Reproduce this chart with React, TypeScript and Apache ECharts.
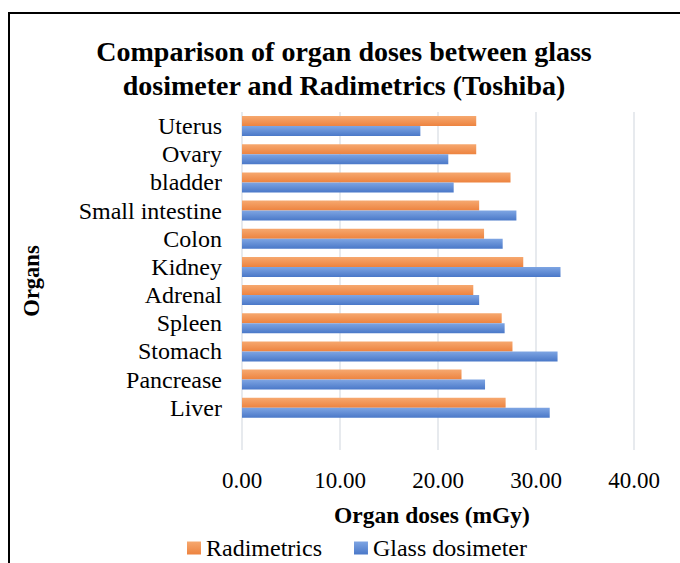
import React, { useEffect, useRef } from "react";
import * as echarts from "echarts";

const categories = ["", "Liver", "Pancrease", "Stomach", "Spleen", "Adrenal", "Kidney", "Colon", "Small intestine", "bladder", "Ovary", "Uterus"];
const radimetrics: (number | string)[] = ["-", 26.9, 22.4, 27.6, 26.5, 23.6, 28.7, 24.7, 24.2, 27.4, 23.9, 23.9];
const glassDosimeter: (number | string)[] = ["-", 31.4, 24.8, 32.2, 26.8, 24.2, 32.5, 26.6, 28.0, 21.6, 21.05, 18.2];
const xTicks = { min: 0, max: 40, interval: 10 };

const SERIF = "'Liberation Serif', 'Times New Roman', serif";

export default function App() {
  const ref = useRef<HTMLDivElement>(null);
  useEffect(() => {
    if (!ref.current) return;
    const chart = echarts.init(ref.current, null, { renderer: "svg" });
    const orange = new echarts.graphic.LinearGradient(0, 0, 0, 1, [
      { offset: 0, color: "#f6a86f" },
      { offset: 1, color: "#ed833f" },
    ]);
    const blue = new echarts.graphic.LinearGradient(0, 0, 0, 1, [
      { offset: 0, color: "#7ea5e3" },
      { offset: 1, color: "#4a78c8" },
    ]);
    chart.setOption({
      animation: false,
      textStyle: { fontFamily: SERIF },
      title: {
        text: "Comparison of organ doses between glass\ndosimeter and Radimetrics (Toshiba)",
        left: 344,
        textAlign: "center",
        top: 34,
        padding: 0,
        textStyle: { fontFamily: SERIF, fontSize: 28, fontWeight: "bold", color: "#000", lineHeight: 34 },
      },
      graphic: [
        {
          type: "rect",
          shape: { x: 9, y: 13, width: 700, height: 600 },
          style: { fill: "none", stroke: "#000", lineWidth: 2 },
          silent: true,
        },
      ],
      legend: {
        data: ["Radimetrics", "Glass dosimeter"],
        left: 187,
        top: 536,
        padding: 0,
        itemWidth: 14,
        itemHeight: 13,
        itemGap: 32,
        icon: "rect",
        textStyle: { fontFamily: SERIF, fontSize: 24, color: "#000", lineHeight: 22 },
      },
      grid: { left: 242, right: 46, top: 112, bottom: 113, containLabel: false },
      xAxis: {
        type: "value",
        min: xTicks.min,
        max: xTicks.max,
        interval: xTicks.interval,
        name: "Organ doses (mGy)",
        nameLocation: "middle",
        nameGap: 53,
        nameTextStyle: { fontFamily: SERIF, fontSize: 23.5, fontWeight: "bold", color: "#000", padding: [0, 12, 0, 0] },
        axisLine: { show: false },
        axisTick: { show: false },
        axisLabel: {
          margin: 19,
          fontFamily: SERIF,
          fontSize: 23,
          color: "#000",
          formatter: (v: number) => v.toFixed(2),
        },
        splitLine: { show: true, lineStyle: { color: "#dfe3e8", width: 1.5 } },
      },
      yAxis: {
        type: "category",
        data: categories,
        name: "Organs",
        nameLocation: "middle",
        nameGap: 199,
        nameRotate: 90,
        nameTextStyle: { fontFamily: SERIF, fontSize: 22.5, fontWeight: "bold", color: "#000" },
        axisLine: { show: false },
        axisTick: { show: false },
        axisLabel: { interval: 0, margin: 20, fontFamily: SERIF, fontSize: 24, color: "#000" },
      },
      series: [
        {
          name: "Radimetrics",
          type: "bar",
          data: radimetrics,
          itemStyle: { color: orange },
          barGap: "0%",
          barCategoryGap: "29%",
        },
        {
          name: "Glass dosimeter",
          type: "bar",
          data: glassDosimeter,
          itemStyle: { color: blue },
          barGap: "0%",
          barCategoryGap: "29%",
        },
      ],
    });
    return () => chart.dispose();
  }, []);
  return (
    <div
      ref={ref}
      style={{ position: "fixed", left: 0, top: 0, width: 680, height: 563, background: "#fff" }}
    />
  );
}
